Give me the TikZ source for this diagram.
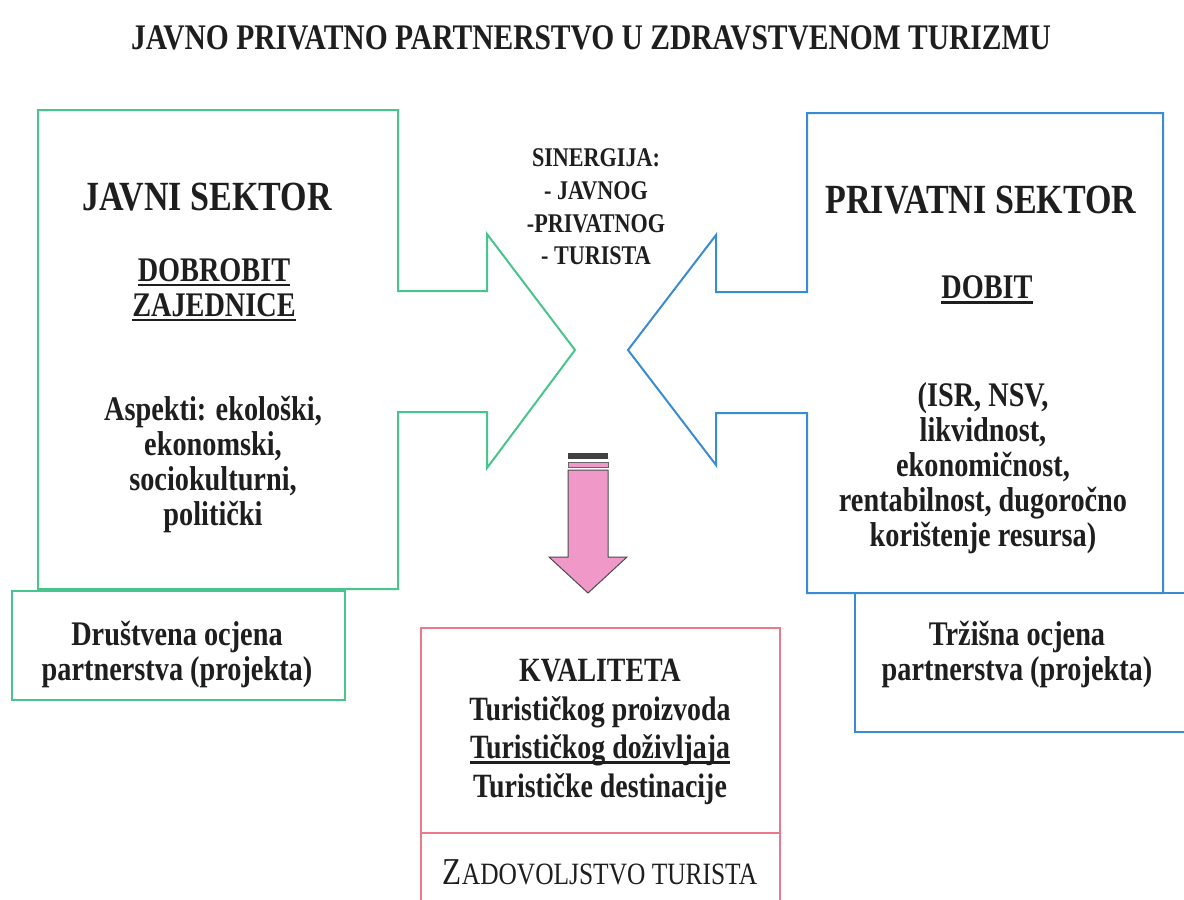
\documentclass[tikz,border=0pt]{standalone}
\usepackage{fontspec}
\setmainfont{Liberation Serif}[FakeStretch=0.82]
\newcommand\ulx[1]{\setbox0\hbox{#1}\rlap{\rule[-5pt]{\wd0}{2.6pt}}\box0}
\definecolor{pgreen}{RGB}{72,196,140}
\definecolor{pblue}{RGB}{58,140,210}
\definecolor{pred}{RGB}{236,120,140}
\definecolor{ppink}{RGB}{240,152,200}
\definecolor{ink}{RGB}{30,30,30}
\begin{document}
\begin{tikzpicture}[x=1pt,y=-1pt,line join=miter,
  txt/.style={align=center,inner sep=0pt,text=ink,font=\bfseries\fontsize{34.5}{35}\selectfont},
  headtxt/.style={txt,font=\bfseries\fontsize{41.5}{44}\selectfont},
  midtxt/.style={txt,font=\bfseries\fontsize{27}{32.7}\selectfont},
  titletxt/.style={txt,font=\bfseries\fontsize{36}{40}\selectfont},
  qtxt/.style={txt,font=\bfseries\fontsize{34}{38.5}\selectfont},
  gline/.style={draw=pgreen,line width=2pt},
  bline/.style={draw=pblue,line width=2pt},
  rline/.style={draw=pred,line width=1.8pt}]
\useasboundingbox (0,0) rectangle (1184,900);
\fill[white] (0,0) rectangle (1184,900);

% title
\node[titletxt] (title) at (591,38) {JAVNO PRIVATNO PARTNERSTVO U ZDRAVSTVENOM TURIZMU};

% green shape (public sector)
\draw[gline] (38,110) -- (398,110) -- (398,291) -- (487,291) -- (487,234) -- (575,350)
  -- (487,468) -- (487,412) -- (398,412) -- (398,589) -- (38,589) -- cycle;
% blue shape (private sector)
\draw[bline] (1163,113) -- (807,113) -- (807,292) -- (716,292) -- (716,235) -- (628,350)
  -- (716,465) -- (716,413) -- (807,413) -- (807,593) -- (1163,593) -- cycle;

% bottom boxes
\draw[gline] (12,591) rectangle (345,700);
\draw[bline] (855,593) -- (855,732) -- (1190,732);
\draw[bline] (1163,593) -- (1190,593);

% quality box
\draw[rline] (421,905) -- (421,628) -- (780,628) -- (780,905);
\draw[rline] (421,833) -- (780,833);

% pink arrow
\fill[black!75] (568,453) rectangle (608,459);
\draw[black!60,fill=ppink,line width=0.8pt] (568,462) rectangle (608,467);
\draw[black!70,fill=ppink,line width=1pt] (568,470) -- (608,470) -- (608,557) -- (627,557)
  -- (588,593) -- (549,557) -- (568,557) -- cycle;

% texts: public sector
\node[headtxt] (javni) at (207,197) {JAVNI SEKTOR};
\node[txt] (dobrobit) at (214,290) {\ulx{DOBROBIT}\\ \ulx{ZAJEDNICE}};
\node[txt] (aspekti) at (213,465) {Aspekti: ekološki,\\ ekonomski,\\ sociokulturni,\\ politički};

% synergy
\node[midtxt] (sinergija) at (596,207) {SINERGIJA:\\ - JAVNOG\\ -PRIVATNOG\\ - TURISTA};

% private sector
\node[headtxt] (privatni) at (981,200) {PRIVATNI SEKTOR};
\node[txt] (dobit) at (987,290) {\ulx{DOBIT}};
\node[txt] (isr) at (983,468) {(ISR, NSV,\\ likvidnost,\\ ekonomičnost,\\ rentabilnost, dugoročno\\ korištenje resursa)};

% assessment boxes
\node[txt] (drustvena) at (177,655) {Društvena ocjena\\ partnerstva (projekta)};
\node[txt] (trzisna) at (1017,655) {Tržišna ocjena\\ partnerstva (projekta)};

% quality
\node[qtxt] (kvaliteta) at (600,732) {KVALITETA\\ Turističkog proizvoda\\ \ulx{Turističkog doživljaja}\\ Turističke destinacije};
\node[txt,font=\fontsize{38}{38}\selectfont] (zadovoljstvo) at (600,872) {Z{\fontsize{31}{32}\selectfont ADOVOLJSTVO TURISTA}};
\end{tikzpicture}
\end{document}
